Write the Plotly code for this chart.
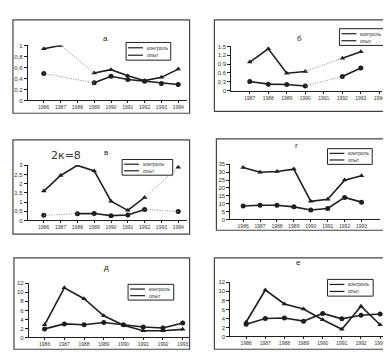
import plotly.graph_objects as go

W, H = 391, 358

# ---------------- data ----------------
years_a = [1986, 1987, 1988, 1989, 1990, 1991, 1992, 1993, 1994]
kontrol_a = [0.49, None, None, 0.32, 0.44, 0.38, 0.35, 0.31, 0.29]
opyt_a = [0.94, 1.0, None, 0.50, 0.56, 0.45, 0.36, 0.42, 0.57]

years_b = [1987, 1988, 1989, 1990, 1991, 1992, 1993, 1994]
kontrol_b = [0.31, 0.22, 0.21, 0.16, None, 0.48, 0.77, None]
opyt_b = [0.97, 1.42, 0.59, 0.65, None, 1.10, 1.32, None]

years_v = [1986, 1987, 1988, 1989, 1990, 1991, 1992, 1993, 1994]
kontrol_v = [0.28, None, 0.37, 0.38, 0.26, 0.30, 0.60, None, 0.48]
opyt_v = [1.60, 2.45, 3.00, 2.70, 1.05, 0.55, 1.25, None, 2.90]

years_g = [1986, 1987, 1988, 1989, 1990, 1991, 1992, 1993]
kontrol_g = [8.5, 9.0, 9.0, 8.0, 6.0, 7.0, 14.0, 11.0]
opyt_g = [33.0, 30.0, 30.5, 32.0, 11.5, 12.8, 25.0, 27.8]

years_d = [1986, 1987, 1988, 1989, 1990, 1991, 1992, 1993]
kontrol_d = [1.9, 3.0, 2.8, 3.3, 2.8, 2.3, 2.1, 3.2]
opyt_d = [2.8, 11.0, 8.6, 4.8, 2.7, 1.5, 1.5, 1.8]

years_e = [1986, 1987, 1988, 1989, 1990, 1991, 1992, 1993]
kontrol_e = [2.7, 4.0, 4.1, 3.4, 5.1, 3.9, 4.7, 5.0]
opyt_e = [3.2, 10.3, 7.2, 6.1, 3.7, 1.6, 6.7, 2.6]

titles = ["а", "б", "в", "г", "д", "е"]
series_names = ["контроль", "опыт"]
symbols = ["circle", "triangle-up"]

# ---------------- layout geometry (pixels) ----------------
panels = [
    dict(years=years_a, k=kontrol_a, o=opyt_a, box=(5, 9, 183, 104), plot=(20, 35, 180, 91),
         xr=(-0.95, 8.5), ymax=1.0, dtick=0.2, tpos=(94, 21), lbox=(119, 32, 164, 50)),
    dict(years=years_b, k=kontrol_b, o=opyt_b, box=(208, 9, 388, 102), plot=(225, 36, 377, 81),
         xr=(-1.0, 7.15), ymax=1.5, dtick=0.3, tpos=(298, 21), lbox=(334, 18, 384, 35)),
    dict(years=years_v, k=kontrol_v, o=opyt_v, box=(5, 131, 183, 227), plot=(20, 157, 180, 213),
         xr=(-0.95, 8.5), ymax=3.0, dtick=0.5, tpos=(95, 144), lbox=(115, 151, 166, 167)),
    dict(years=years_g, k=kontrol_g, o=opyt_g, box=(210, 130, 388, 223), plot=(224, 156, 375, 212),
         xr=(-0.76, 8.1), ymax=35, dtick=5, tpos=(294, 137), lbox=(322, 140, 367, 156)),
    dict(years=years_d, k=kontrol_d, o=opyt_d, box=(6, 251, 183, 344), plot=(21, 277, 182, 332),
         xr=(-0.8, 7.3), ymax=12, dtick=2, tpos=(95, 267), lbox=(121, 278, 167, 294)),
    dict(years=years_e, k=kontrol_e, o=opyt_e, box=(208, 251, 388, 344), plot=(224, 276, 380, 331),
         xr=(-0.83, 7.26), ymax=12, dtick=2, tpos=(297, 262), lbox=(322, 273, 368, 290)),
]

LINE = "#1e1e1e"
DOT = "#8a8a8a"
FONT = "Liberation Sans"

fig = go.Figure()


def px_x(p):
    return p / W


def px_y(p):
    return 1 - p / H


def add_series(vals, name, symbol, xa, ya):
    xs = list(range(len(vals)))
    fig.add_trace(go.Scatter(
        x=xs, y=vals, mode="lines+markers", name=name, connectgaps=False,
        line=dict(color=LINE, width=1.6),
        marker=dict(symbol=symbol, size=5, color=LINE),
        xaxis=xa, yaxis=ya, showlegend=False, hoverinfo="skip"))
    present = [i for i, v in enumerate(vals) if v is not None]
    for a, b in zip(present[:-1], present[1:]):
        if b - a > 1:
            fig.add_trace(go.Scatter(
                x=[a, b], y=[vals[a], vals[b]], mode="lines",
                line=dict(color=DOT, width=1.0, dash="1px,1.5px"),
                xaxis=xa, yaxis=ya, showlegend=False, hoverinfo="skip"))


shapes = []
annotations = []
layout_axes = {}
leg_x, leg_y, leg_sym = [], [], []
for n, p in enumerate(panels):
    s = "" if n == 0 else str(n + 1)
    xa, ya = "x" + s, "y" + s
    add_series(p["k"], series_names[0], symbols[0], xa, ya)
    add_series(p["o"], series_names[1], symbols[1], xa, ya)

    x0, yt, x1, yb = p["plot"]
    layout_axes["xaxis" + s] = dict(
        domain=[px_x(x0), px_x(x1)], anchor=ya, range=list(p["xr"]),
        tickvals=list(range(len(p["years"]))), ticktext=[str(y) for y in p["years"]],
        showline=True, linecolor=LINE, linewidth=1, ticks="outside", ticklen=2,
        tickcolor=LINE, showgrid=False, zeroline=False,
        tickfont=dict(size=5, color="#333", family=FONT), fixedrange=True)
    layout_axes["yaxis" + s] = dict(
        domain=[px_y(yb), px_y(yt)], anchor=xa, range=[0, p["ymax"]],
        dtick=p["dtick"], tick0=0,
        showline=True, linecolor=LINE, linewidth=1, ticks="outside", ticklen=3,
        tickcolor=LINE, showgrid=False, zeroline=False,
        tickfont=dict(size=6, color="#333", family=FONT), fixedrange=True)

    bx0, by0, bx1, by1 = p["box"]
    shapes.append(dict(type="rect", xref="paper", yref="paper",
                       x0=px_x(bx0), x1=px_x(bx1), y0=px_y(by1), y1=px_y(by0),
                       line=dict(color="#444", width=1.2), layer="below"))
    tx, ty = p["tpos"]
    annotations.append(dict(text=titles[n], xref="paper", yref="paper",
                            x=px_x(tx), y=px_y(ty), showarrow=False,
                            font=dict(size=8, color="#222", family=FONT)))

    # legend (drawn in pixel space on an overlay axis)
    lx0, ly0, lx1, ly1 = p["lbox"]
    shapes.append(dict(type="rect", xref="x7", yref="y7", x0=lx0, x1=lx1, y0=ly0, y1=ly1,
                       line=dict(color="#222", width=1), fillcolor="white", layer="above"))
    hgt = ly1 - ly0
    for r in range(2):
        ry = ly0 + hgt * (0.3 + 0.42 * r)
        sx0, sx1 = lx0 + 2, lx0 + 17
        shapes.append(dict(type="line", xref="x7", yref="y7", x0=sx0, x1=sx1, y0=ry, y1=ry,
                           line=dict(color=LINE, width=1.2)))
        leg_x.append((sx0 + sx1) / 2)
        leg_y.append(ry)
        leg_sym.append(symbols[r])
        annotations.append(dict(text=series_names[r], xref="x7", yref="y7", x=sx1 + 2, y=ry,
                                xanchor="left", yanchor="middle", showarrow=False,
                                font=dict(size=5, color="#333", family=FONT)))

fig.add_trace(go.Scatter(x=leg_x, y=leg_y, mode="markers",
                         marker=dict(symbol=leg_sym, size=4.5, color=LINE),
                         xaxis="x7", yaxis="y7", showlegend=False, hoverinfo="skip"))

layout_axes["xaxis7"] = dict(domain=[0, 1], range=[0, W], visible=False, fixedrange=True,
                             anchor="y7")
layout_axes["yaxis7"] = dict(domain=[0, 1], range=[H, 0], visible=False, fixedrange=True,
                             anchor="x7")

annotations.append(dict(text="2к=8", xref="paper", yref="paper", x=px_x(41), y=px_y(147),
                        showarrow=False,
                        font=dict(size=11, color="#333", family="DejaVu Sans")))

fig.update_layout(
    width=W, height=H, margin=dict(l=0, r=0, t=0, b=0),
    paper_bgcolor="white", plot_bgcolor="rgba(0,0,0,0)",
    separators=", ", shapes=shapes, annotations=annotations, showlegend=False,
    **layout_axes)

fig.write_html("out.html")
